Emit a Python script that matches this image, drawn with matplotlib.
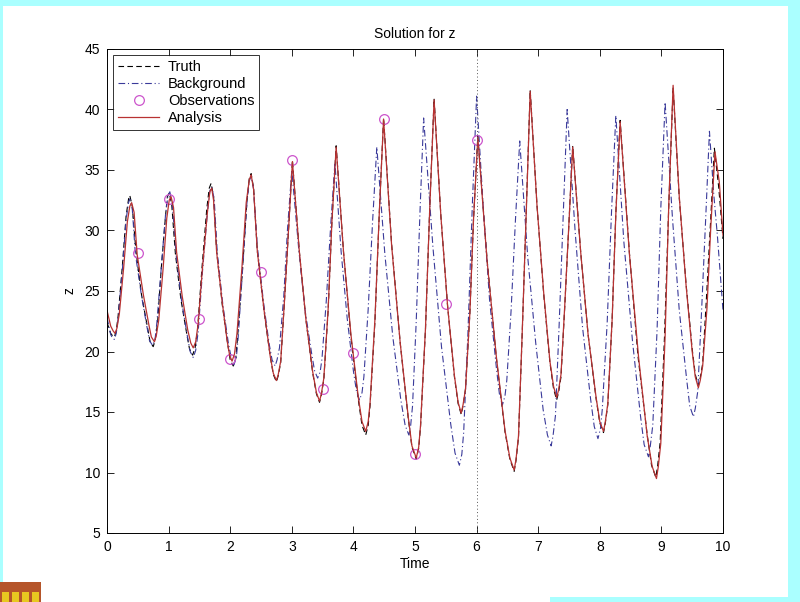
import matplotlib
matplotlib.use("Agg")
import matplotlib.pyplot as plt
from matplotlib.patches import Rectangle

plt.rcParams["font.family"] = ["Liberation Sans", "DejaVu Sans"]

# analysis (red solid)
t_an = [0.00, 0.06, 0.10, 0.13, 0.16, 0.20, 0.27, 0.33, 0.37, 0.40, 0.44, 0.49, 0.59, 0.68, 0.72,
        0.77, 0.80, 0.84, 0.91, 0.97, 1.01, 1.04, 1.08, 1.13, 1.22, 1.31, 1.36, 1.40, 1.44, 1.48,
        1.55, 1.63, 1.67, 1.70, 1.73, 1.78, 1.87, 1.95, 1.99, 2.03, 2.07, 2.11, 2.19, 2.26, 2.31,
        2.34, 2.38, 2.44, 2.55, 2.65, 2.70, 2.75, 2.78, 2.82, 2.88, 2.95, 3.01, 3.12, 3.23, 3.34,
        3.40, 3.45, 3.48, 3.52, 3.59, 3.65, 3.72, 3.84, 3.96, 4.08, 4.14, 4.20, 4.24, 4.27, 4.35,
        4.42, 4.49, 4.62, 4.76, 4.89, 4.95, 5.02, 5.06, 5.09, 5.17, 5.24, 5.31, 5.42, 5.53, 5.64,
        5.70, 5.75, 5.78, 5.82, 5.89, 5.95, 6.02, 6.17, 6.32, 6.46, 6.54, 6.61, 6.64, 6.68, 6.74,
        6.81, 6.87, 6.98, 7.09, 7.19, 7.25, 7.30, 7.33, 7.37, 7.43, 7.50, 7.56, 7.69, 7.81, 7.94,
        8.00, 8.06, 8.09, 8.13, 8.20, 8.26, 8.33, 8.48, 8.63, 8.77, 8.85, 8.92, 8.95, 8.99, 9.06,
        9.12, 9.19, 9.29, 9.40, 9.50, 9.55, 9.60, 9.63, 9.67, 9.74, 9.80, 9.87, 9.94, 10.00]
z_an = [23.4, 22.1, 21.7, 21.5, 21.9, 23.1, 26.9, 30.7, 32.0, 32.3, 31.5, 28.0, 24.7, 22.2, 21.2,
        20.8, 21.3, 22.6, 26.8, 31.0, 32.5, 32.8, 31.9, 28.2, 24.6, 21.8, 20.7, 20.3, 20.8, 22.3,
        26.9, 31.5, 33.2, 33.5, 32.5, 28.2, 24.1, 20.9, 19.7, 19.2, 19.8, 21.5, 26.9, 32.3, 34.2,
        34.6, 33.4, 28.3, 23.4, 19.6, 18.2, 17.6, 18.1, 19.2, 24.1, 30.3, 35.7, 28.4, 22.6, 18.3,
        16.6, 15.9, 16.5, 17.8, 23.5, 30.6, 36.9, 28.2, 21.4, 16.2, 14.2, 13.4, 14.2, 15.7, 22.7,
        31.4, 39.2, 28.8, 20.7, 14.6, 12.2, 11.2, 12.1, 13.9, 21.9, 31.9, 40.8, 31.2, 23.7, 18.0,
        15.8, 14.9, 15.6, 16.9, 23.1, 30.9, 37.7, 27.5, 19.6, 13.5, 11.2, 10.2, 11.1, 13.0, 21.5,
        32.1, 41.5, 32.1, 24.8, 19.2, 17.1, 16.2, 16.8, 18.1, 23.7, 30.7, 36.9, 28.2, 21.4, 16.2,
        14.2, 13.4, 14.2, 15.7, 22.6, 31.3, 39.0, 28.1, 19.5, 13.0, 10.5, 9.5, 10.5, 12.4, 21.2,
        32.2, 42.0, 32.8, 25.5, 20.0, 17.9, 17.0, 17.6, 18.8, 23.6, 30.1, 36.5, 34.0, 29.6]

# truth (black dashed)
t_tr = [0.00, 0.06, 0.09, 0.12, 0.15, 0.18, 0.25, 0.31, 0.35, 0.37, 0.41, 0.47, 0.56, 0.66, 0.70,
        0.75, 0.78, 0.82, 0.88, 0.95, 0.98, 1.01, 1.05, 1.11, 1.20, 1.30, 1.34, 1.39, 1.43, 1.47,
        1.54, 1.62, 1.66, 1.69, 1.73, 1.78, 1.87, 1.96, 2.00, 2.05, 2.09, 2.12, 2.20, 2.27, 2.31,
        2.34, 2.38, 2.44, 2.55, 2.65, 2.70, 2.75, 2.78, 2.82, 2.88, 2.95, 3.01, 3.12, 3.23, 3.34,
        3.40, 3.45, 3.48, 3.52, 3.59, 3.65, 3.72, 3.84, 3.96, 4.08, 4.14, 4.20, 4.24, 4.27, 4.35,
        4.42, 4.49, 4.62, 4.76, 4.89, 4.95, 5.02, 5.06, 5.09, 5.17, 5.24, 5.31, 5.42, 5.53, 5.64,
        5.70, 5.75, 5.78, 5.82, 5.89, 5.95, 6.02, 6.17, 6.32, 6.46, 6.54, 6.61, 6.64, 6.68, 6.74,
        6.81, 6.87, 6.98, 7.09, 7.19, 7.25, 7.30, 7.33, 7.37, 7.43, 7.50, 7.56, 7.69, 7.81, 7.94,
        8.00, 8.06, 8.09, 8.13, 8.20, 8.26, 8.33, 8.48, 8.62, 8.77, 8.84, 8.91, 8.94, 8.98, 9.05,
        9.12, 9.19, 9.29, 9.40, 9.50, 9.55, 9.60, 9.63, 9.67, 9.73, 9.80, 9.86, 9.93, 10.00]
z_tr = [22.4, 21.5, 21.3, 21.2, 21.7, 22.9, 27.1, 31.2, 32.6, 32.9, 32.0, 28.3, 24.7, 21.9, 20.8,
        20.4, 20.9, 22.3, 26.8, 31.2, 32.8, 33.1, 32.2, 28.1, 24.3, 21.3, 20.2, 19.7, 20.3, 21.8,
        26.8, 31.8, 33.5, 33.9, 32.8, 28.3, 23.9, 20.6, 19.3, 18.8, 19.4, 21.2, 26.8, 32.3, 34.3,
        34.7, 33.5, 28.3, 23.3, 19.6, 18.1, 17.5, 18.0, 19.1, 24.1, 30.3, 35.8, 28.4, 22.6, 18.2,
        16.5, 15.8, 16.4, 17.7, 23.4, 30.6, 37.0, 28.2, 21.2, 16.0, 13.9, 13.1, 13.9, 15.5, 22.5,
        31.4, 39.3, 28.9, 20.7, 14.5, 12.1, 11.1, 12.0, 13.8, 21.8, 32.0, 40.9, 31.2, 23.7, 17.9,
        15.7, 14.8, 15.5, 16.9, 23.1, 30.9, 37.8, 27.6, 19.5, 13.4, 11.1, 10.1, 11.0, 12.9, 21.4,
        32.2, 41.6, 32.1, 24.7, 19.1, 16.9, 16.0, 16.6, 17.9, 23.6, 30.7, 37.0, 28.2, 21.4, 16.1,
        14.1, 13.3, 14.1, 15.6, 22.6, 31.4, 39.1, 28.2, 19.6, 13.1, 10.6, 9.6, 10.6, 12.5, 21.2,
        32.1, 41.8, 32.7, 25.6, 20.2, 18.1, 17.2, 17.8, 19.0, 24.3, 30.9, 36.8, 33.6, 29.3]

# background (blue dash-dot)
t_bg = [0.00, 0.06, 0.09, 0.12, 0.15, 0.18, 0.25, 0.31, 0.35, 0.37, 0.41, 0.46, 0.56, 0.65, 0.69,
        0.74, 0.78, 0.81, 0.88, 0.95, 0.99, 1.02, 1.06, 1.12, 1.21, 1.31, 1.35, 1.40, 1.44, 1.48,
        1.55, 1.63, 1.67, 1.70, 1.74, 1.79, 1.88, 1.97, 2.02, 2.06, 2.10, 2.13, 2.20, 2.27, 2.31,
        2.34, 2.38, 2.44, 2.54, 2.63, 2.68, 2.73, 2.76, 2.80, 2.87, 2.93, 3.00, 3.11, 3.21, 3.32,
        3.37, 3.42, 3.46, 3.49, 3.56, 3.63, 3.70, 3.80, 3.90, 4.00, 4.05, 4.10, 4.14, 4.17, 4.24,
        4.31, 4.38, 4.51, 4.64, 4.77, 4.84, 4.90, 4.93, 4.96, 5.02, 5.08, 5.14, 5.29, 5.43, 5.58,
        5.65, 5.72, 5.76, 5.79, 5.86, 5.93, 6.00, 6.11, 6.21, 6.32, 6.37, 6.42, 6.46, 6.49, 6.56,
        6.63, 6.70, 6.83, 6.96, 7.08, 7.15, 7.21, 7.24, 7.28, 7.34, 7.41, 7.47, 7.60, 7.72, 7.85,
        7.91, 7.97, 8.01, 8.04, 8.12, 8.19, 8.26, 8.39, 8.53, 8.66, 8.72, 8.79, 8.82, 8.86, 8.93,
        8.99, 9.06, 9.18, 9.29, 9.41, 9.46, 9.52, 9.55, 9.59, 9.65, 9.72, 9.78, 9.85, 9.91, 10.00]
z_bg = [22.8, 21.4, 21.1, 21.0, 21.5, 22.7, 26.8, 30.9, 32.3, 32.6, 31.8, 28.1, 24.6, 22.0, 20.9,
        20.5, 21.0, 22.4, 26.9, 31.3, 32.9, 33.2, 32.2, 28.1, 24.2, 21.1, 20.0, 19.5, 20.1, 21.6,
        26.6, 31.5, 33.3, 33.6, 32.6, 28.2, 23.9, 20.7, 19.4, 18.9, 19.5, 21.2, 26.7, 32.2, 34.1,
        34.5, 33.4, 28.7, 24.1, 20.7, 19.3, 18.8, 19.3, 20.3, 24.6, 30.1, 35.0, 28.6, 23.6, 19.9,
        18.4, 17.8, 18.3, 19.4, 24.2, 30.3, 35.6, 28.3, 22.7, 18.4, 16.7, 16.0, 16.6, 17.9, 23.5,
        30.6, 36.9, 28.1, 21.2, 16.0, 13.9, 13.1, 13.9, 15.5, 22.5, 31.4, 39.3, 28.7, 20.4, 14.0,
        11.6, 10.6, 11.5, 13.3, 21.6, 32.0, 41.1, 31.7, 24.3, 18.7, 16.5, 15.6, 16.3, 17.6, 23.4,
        30.8, 37.4, 27.8, 20.7, 15.2, 13.1, 12.2, 13.0, 14.7, 22.2, 31.7, 40.0, 29.9, 22.0, 16.1,
        13.8, 12.8, 13.6, 15.2, 22.4, 31.5, 39.5, 29.1, 20.9, 14.7, 12.3, 11.3, 12.2, 13.9, 21.8,
        31.8, 40.6, 31.0, 23.4, 17.7, 15.5, 14.6, 15.3, 16.7, 23.1, 31.1, 38.2, 33.0, 29.5, 23.4]

# observations
t_obs = [0.5, 1.0, 1.5, 2.0, 2.5, 3.0, 3.5, 4.0, 4.5, 5.0, 5.5, 6.0]
z_obs = [28.1, 32.6, 22.7, 19.4, 26.6, 35.8, 16.9, 19.9, 39.2, 11.5, 23.9, 37.5]

W, H = 800, 602
fig = plt.figure(figsize=(W / 100, H / 100), dpi=100)
fig.patch.set_facecolor("white")

# slide frame bits around the figure
cyan = "#aaffff"
for (x0, y0, w, h, c) in [(0, 0, 800, 6, cyan), (0, 0, 3, 582, cyan), (788, 0, 12, 602, cyan),
                          (550, 597, 250, 5, cyan), (0, 582, 41, 20, "#b5552a")]:
    fig.patches.append(Rectangle((x0 / W, 1 - (y0 + h) / H), w / W, h / H,
                                 transform=fig.transFigure, facecolor=c, edgecolor="none", zorder=0))
for k in range(4):
    fig.patches.append(Rectangle(((2 + k * 10) / W, 1 - 602 / H), 7 / W, 10 / H,
                                 transform=fig.transFigure, facecolor="#e8c820", edgecolor="none", zorder=1))

ax = fig.add_axes([107 / W, 1 - 533 / H, 616 / W, 484 / H])

ax.plot(t_tr, z_tr, color="black", lw=0.8, ls=(0, (5, 3)), label="Truth")
ax.plot(t_bg, z_bg, color="#3a3a9a", lw=0.8, ls=(0, (6, 2.5, 1, 2.5)), label="Background")
ax.plot(t_obs, z_obs, ls="none", marker="o", ms=7, mfc="none", mec="#cc55cc", mew=0.9,
        label="Observations")
ax.plot(t_an, z_an, color="#b83232", lw=0.9, label="Analysis")
ax.axvline(6, color="#555555", lw=0.7, ls=(0, (1, 2.5)))

ax.set_xlim(0, 10)
ax.set_ylim(5, 45)
ax.set_xticks(range(0, 11))
ax.set_yticks(range(5, 46, 5))
ax.tick_params(direction="in", top=True, right=True, length=5, width=0.6, labelsize=10, pad=5)
for s in ax.spines.values():
    s.set_linewidth(0.7)

ax.set_title("Solution for z", fontsize=10, pad=8)
ax.set_xlabel("Time", fontsize=10, labelpad=2)
ax.set_ylabel("z", fontsize=10, labelpad=6)

leg = ax.legend(loc="upper left", bbox_to_anchor=(0.01, 0.988), borderaxespad=0, fontsize=10.5,
                frameon=True, fancybox=False, edgecolor="black", handlelength=2.8,
                labelspacing=0.2, borderpad=0.35, handletextpad=0.6)
leg.get_frame().set_linewidth(0.7)

fig.savefig("out.png", dpi=100, facecolor=fig.get_facecolor())
